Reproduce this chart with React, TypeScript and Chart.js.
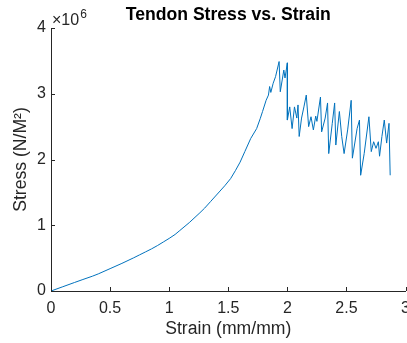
import React, { useEffect, useRef } from "react";
import { Chart, registerables } from "chart.js";

Chart.register(...registerables);

// Strain (mm/mm)
const strain = [
  0, 0.1, 0.2, 0.27, 0.35, 0.4, 0.5, 0.6, 0.7, 0.75, 0.8, 0.85, 0.9, 0.95, 1.0, 1.05, 1.09, 1.17, 1.26, 1.3, 1.35, 1.43, 1.47, 1.52, 1.56, 1.6,
  1.64, 1.69, 1.74, 1.77, 1.79, 1.82, 1.84, 1.85, 1.86, 1.88, 1.9, 1.93, 1.94, 1.97, 1.98, 2.0,
  2.0, 2.02, 2.04, 2.06, 2.08, 2.09, 2.1, 2.12, 2.14, 2.16, 2.18, 2.2, 2.22, 2.24, 2.25, 2.28, 2.29,
  2.32, 2.34, 2.35, 2.38, 2.4, 2.41, 2.44, 2.46, 2.48, 2.51, 2.54, 2.55, 2.59, 2.61, 2.62, 2.65,
  2.69, 2.71, 2.73, 2.75, 2.77, 2.78, 2.8, 2.82, 2.84, 2.86, 2.87,
];

// Stress (×10^6 N/M²)
const stress = [
  0, 0.065, 0.13, 0.175, 0.225, 0.26, 0.34, 0.42, 0.505, 0.55, 0.595, 0.64, 0.69, 0.745, 0.8, 0.86, 0.92, 1.04, 1.19, 1.26, 1.36, 1.52, 1.6, 1.71, 1.83, 1.96,
  2.12, 2.32, 2.47, 2.62, 2.73, 2.9, 2.98, 3.11, 3.02, 3.16, 3.26, 3.49, 3.03, 3.36, 3.24, 3.47,
  2.6, 2.8, 2.47, 2.8, 2.63, 2.83, 2.35, 2.63, 2.8, 2.98, 2.5, 2.65, 2.45, 2.66, 2.58, 2.95, 2.42,
  2.63, 2.86, 2.09, 2.55, 2.86, 2.22, 2.73, 2.35, 2.09, 2.45, 2.9, 2.02, 2.47, 2.6, 1.76, 2.09,
  2.65, 2.12, 2.27, 2.17, 2.27, 2.05, 2.35, 2.6, 2.25, 2.55, 1.76,
];

const xTickValues = [0, 0.5, 1, 1.5, 2, 2.5, 3];
const yTickValues = [0, 1, 2, 3, 4];
const titleText = "Tendon Stress vs. Strain";
const xLabel = "Strain (mm/mm)";
const yLabel = "Stress (N/M²)";
const exponentBase = "×10";
const exponentPower = "6";

const FONT = '"Liberation Sans", Arial, Helvetica, sans-serif';
const INK = "#262626";
const LINE = "#0072BD";

const decorPlugin = {
  id: "decor",
  afterDraw(chart: any) {
    const { ctx, chartArea, scales } = chart;
    const xs = scales.x;
    const ys = scales.y;
    ctx.save();
    ctx.strokeStyle = INK;
    ctx.lineWidth = 1;
    ctx.beginPath();
    xs.ticks.forEach((t: any) => {
      const px = Math.round(xs.getPixelForValue(t.value)) + 0.5;
      ctx.moveTo(px, chartArea.bottom);
      ctx.lineTo(px, chartArea.bottom - 4);
    });
    ys.ticks.forEach((t: any) => {
      const py = Math.round(ys.getPixelForValue(t.value)) + 0.5;
      ctx.moveTo(chartArea.left, py);
      ctx.lineTo(chartArea.left + 4, py);
    });
    ctx.stroke();

    ctx.fillStyle = "#000";
    ctx.font = `bold 17.6px ${FONT}`;
    ctx.textAlign = "center";
    ctx.textBaseline = "middle";
    ctx.fillText(titleText, (chartArea.left + chartArea.right) / 2, 15);

    ctx.fillStyle = INK;
    ctx.font = `16px ${FONT}`;
    ctx.textAlign = "left";
    ctx.textBaseline = "alphabetic";
    const x0 = chartArea.left + 1;
    ctx.fillText(exponentBase, x0, 25);
    const w = ctx.measureText(exponentBase).width;
    ctx.font = `12px ${FONT}`;
    ctx.fillText(exponentPower, x0 + w + 1, 18);
    ctx.restore();
  },
};

export default function App() {
  const canvasRef = useRef<HTMLCanvasElement | null>(null);

  useEffect(() => {
    if (!canvasRef.current) return;
    const points = strain.map((s, i) => ({ x: s, y: stress[i] }));
    const chart = new Chart(canvasRef.current, {
      type: "scatter",
      data: {
        datasets: [
          {
            data: points,
            showLine: true,
            borderColor: LINE,
            backgroundColor: LINE,
            borderWidth: 1,
            pointRadius: 0,
            tension: 0,
          },
        ],
      },
      options: {
        responsive: false,
        animation: false,
        devicePixelRatio: 1,
        layout: { padding: { top: 28, left: 0, right: 0, bottom: 0 } },
        plugins: {
          legend: { display: false },
          title: { display: false },
          tooltip: { enabled: false },
        },
        scales: {
          x: {
            type: "linear",
            min: 0,
            max: 3,
            afterBuildTicks: (s: any) => {
              s.ticks = xTickValues.map((v) => ({ value: v }));
            },
            afterFit: (s: any) => {
              s.height = 52;
            },
            grid: { display: false, drawTicks: false },
            border: { display: true, color: INK, width: 1 },
            ticks: {
              color: INK,
              font: { family: FONT, size: 16 },
              padding: 8,
              maxRotation: 0,
              callback: (v: any) => String(v),
            },
            title: {
              display: true,
              text: xLabel,
              color: INK,
              font: { family: FONT, size: 17.6 },
              padding: { top: 0, bottom: 3 },
            },
          },
          y: {
            type: "linear",
            min: 0,
            max: 4,
            afterBuildTicks: (s: any) => {
              s.ticks = yTickValues.map((v) => ({ value: v }));
            },
            afterFit: (s: any) => {
              s.width = 51;
            },
            grid: { display: false, drawTicks: false },
            border: { display: true, color: INK, width: 1 },
            ticks: {
              color: INK,
              font: { family: FONT, size: 16 },
              padding: 5,
              callback: (v: any) => String(v),
            },
            title: {
              display: true,
              text: yLabel,
              color: INK,
              font: { family: FONT, size: 17.6 },
              padding: { top: 11, bottom: 0 },
            },
          },
        },
      },
      plugins: [decorPlugin],
    });
    return () => chart.destroy();
  }, []);

  return (
    <div style={{ position: "fixed", left: 0, top: 0, width: 407, height: 343, overflow: "hidden", background: "#fff" }}>
      <canvas ref={canvasRef} width={418} height={343} style={{ width: 418, height: 343, display: "block" }} />
    </div>
  );
}
